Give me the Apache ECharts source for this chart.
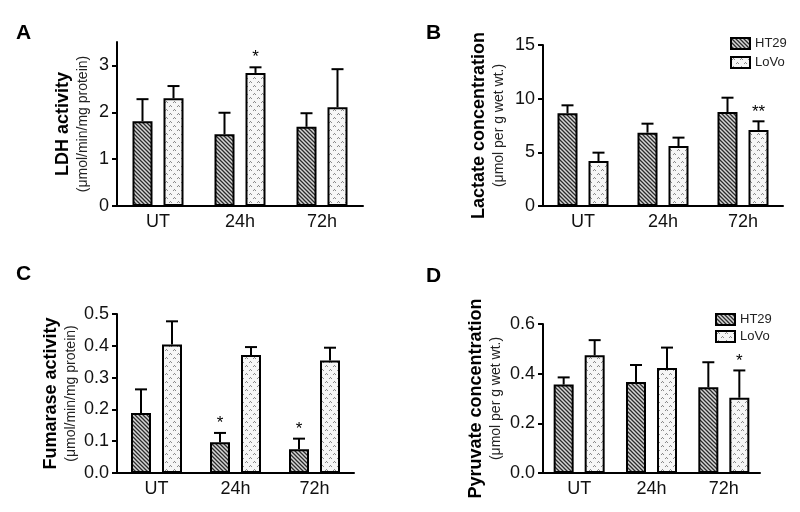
<!DOCTYPE html>
<html>
<head>
<meta charset="utf-8">
<script src="https://cdn.jsdelivr.net/npm/echarts@6/dist/echarts.min.js"></script>
<style>html,body{margin:0;padding:0;background:#fff;}#c{width:800px;height:512px;}</style>
</head>
<body>
<div id="c"></div>
<script>
// ---------- DATA ----------
const categories = ['UT', '24h', '72h'];
const seriesNames = ['HT29', 'LoVo'];

// A: LDH activity
const ldhHT29 = [1.81, 1.53, 1.69];
const ldhHT29Sem = [0.47, 0.46, 0.29];
const ldhLoVo = [2.30, 2.84, 2.11];
const ldhLoVoSem = [0.26, 0.12, 0.81];
const ldhHT29Stars = ['', '', ''];
const ldhLoVoStars = ['', '*', ''];
const ldhTicks = [0, 1, 2, 3];

// B: Lactate concentration
const lacHT29 = [8.64, 6.83, 8.76];
const lacHT29Sem = [0.74, 0.84, 1.33];
const lacLoVo = [4.19, 5.59, 7.08];
const lacLoVoSem = [0.78, 0.78, 0.81];
const lacHT29Stars = ['', '', ''];
const lacLoVoStars = ['', '', '**'];
const lacTicks = [0, 5, 10, 15];

// C: Fumarase activity
const fumHT29 = [0.189, 0.097, 0.075];
const fumHT29Sem = [0.074, 0.029, 0.033];
const fumLoVo = [0.404, 0.371, 0.354];
const fumLoVoSem = [0.073, 0.025, 0.040];
const fumHT29Stars = ['', '*', '*'];
const fumLoVoStars = ['', '', ''];
const fumTicks = [0, 0.1, 0.2, 0.3, 0.4, 0.5];

// D: Pyruvate concentration
const pyrHT29 = [0.356, 0.366, 0.345];
const pyrHT29Sem = [0.029, 0.069, 0.101];
const pyrLoVo = [0.474, 0.423, 0.303];
const pyrLoVoSem = [0.061, 0.082, 0.110];
const pyrHT29Stars = ['', '', ''];
const pyrLoVoStars = ['', '', '*'];
const pyrTicks = [0, 0.2, 0.4, 0.6];

// ---------- STYLE / LAYOUT ----------
const FONT = 'Liberation Sans, Arial, Helvetica, sans-serif';
const BAR_W = 20;
const BAR_GAP = 0.55;
const OFF = BAR_W * (1 + BAR_GAP) / 2;

function hatchPattern() {
  const c = document.createElement('canvas');
  c.width = 4; c.height = 4;
  const g = c.getContext('2d');
  g.fillStyle = '#d6d6d6'; g.fillRect(0, 0, 4, 4);
  g.strokeStyle = '#2b2b2b'; g.lineWidth = 1.3;
  g.beginPath();
  g.moveTo(-1, -1); g.lineTo(5, 5);
  g.moveTo(-1, 3); g.lineTo(1, 5);
  g.moveTo(3, -1); g.lineTo(5, 1);
  g.stroke();
  return c;
}
function dotPattern() {
  const c = document.createElement('canvas');
  c.width = 8; c.height = 8;
  const g = c.getContext('2d');
  g.fillStyle = '#f6f6f6'; g.fillRect(0, 0, 8, 8);
  g.fillStyle = '#8a8a8a';
  [[2,1],[1,2],[3,2],[6,5],[5,6],[7,6]].forEach(p => g.fillRect(p[0], p[1], 1, 1));
  return c;
}
const fills = [
  { image: hatchPattern(), repeat: 'repeat' },
  { image: dotPattern(), repeat: 'repeat' }
];

const panels = [
  { letter: 'A', grid: { left: 117, top: 42, width: 246, height: 164 }, max: 3.5, ticks: ldhTicks, dec: 0,
    title: 'LDH activity', unit: '(μmol/min/mg protein)', gap: 25,
    means: [ldhHT29, ldhLoVo], sems: [ldhHT29Sem, ldhLoVoSem], stars: [ldhHT29Stars, ldhLoVoStars] },
  { letter: 'B', grid: { left: 543, top: 45, width: 240, height: 161 }, max: 15, ticks: lacTicks, dec: 0,
    title: 'Lactate concentration', unit: '(μmol per g wet wt.)', gap: 35,
    means: [lacHT29, lacLoVo], sems: [lacHT29Sem, lacLoVoSem], stars: [lacHT29Stars, lacLoVoStars] },
  { letter: 'C', grid: { left: 117, top: 314, width: 237, height: 159 }, max: 0.5, ticks: fumTicks, dec: 1,
    title: 'Fumarase activity', unit: '(μmol/min/mg protein)', gap: 37,
    means: [fumHT29, fumLoVo], sems: [fumHT29Sem, fumLoVoSem], stars: [fumHT29Stars, fumLoVoStars] },
  { letter: 'D', grid: { left: 543, top: 324, width: 217, height: 149 }, max: 0.6, ticks: pyrTicks, dec: 1,
    title: 'Pyruvate concentration', unit: '(μmol per g wet wt.)', gap: 38,
    means: [pyrHT29, pyrLoVo], sems: [pyrHT29Sem, pyrLoVoSem], stars: [pyrHT29Stars, pyrLoVoStars] }
];
const letterPos = [[11, 18], [421, 18], [11, 259], [421, 261]];

const grids = [], xAxes = [], yAxes = [], series = [], titles = [];
panels.forEach((p, k) => {
  grids.push(p.grid);
  titles.push({ text: p.letter, left: letterPos[k][0], top: letterPos[k][1],
    textStyle: { fontFamily: FONT, fontSize: 21, fontWeight: 'bold', color: '#000' } });
  xAxes.push({
    type: 'category', gridIndex: k, data: categories,
    axisLine: { lineStyle: { color: '#000', width: 2 } },
    axisTick: { alignWithLabel: true, length: 5, lineStyle: { color: '#000', width: 2 } },
    axisLabel: { fontFamily: FONT, fontSize: 18, color: '#111', margin: 7 }
  });
  yAxes.push({
    type: 'value', gridIndex: k, min: 0, max: p.max,
    axisLine: { show: true, lineStyle: { color: '#000', width: 2 } },
    axisTick: { show: true, length: 5, lineStyle: { color: '#000', width: 2 }, customValues: p.ticks },
    axisLabel: { fontFamily: FONT, fontSize: 18, color: '#111', margin: 8, customValues: p.ticks,
      formatter: v => v.toFixed(p.dec) },
    splitLine: { show: false },
    name: '{t|' + p.title + '}\n{s|' + p.unit + '}',
    nameLocation: 'middle', nameRotate: 90, nameGap: p.gap,
    nameTextStyle: { fontFamily: FONT, color: '#000', align: 'center',
      rich: { t: { fontFamily: FONT, fontSize: 18, fontWeight: 'bold', lineHeight: 22, color: '#000' },
              s: { fontFamily: FONT, fontSize: 14, lineHeight: 18, color: '#222' } } }
  });
  for (let s = 0; s < 2; s++) {
    series.push({
      type: 'bar', name: seriesNames[s], xAxisIndex: k, yAxisIndex: k,
      data: p.means[s], barWidth: BAR_W, barGap: (BAR_GAP * 100) + '%',
      itemStyle: { color: fills[s], borderColor: '#000', borderWidth: 2 },
      emphasis: { disabled: true }, animation: false
    });
  }
  for (let s = 0; s < 2; s++) {
    const dir = s === 0 ? -1 : 1;
    const stars = p.stars[s];
    series.push({
      type: 'custom', name: seriesNames[s] + ' SEM', xAxisIndex: k, yAxisIndex: k,
      data: p.means[s].map((m, i) => [i, m, p.sems[s][i]]),
      encode: { x: 0, y: 1 }, clip: false, z: 5, animation: false, silent: true,
      renderItem: (params, api) => {
        const i = api.value(0), m = api.value(1), e = api.value(2);
        const b = api.coord([i, m]);
        const t = api.coord([i, m + e]);
        const cx = b[0] + dir * OFF;
        const children = [
          { type: 'line', shape: { x1: cx, y1: b[1], x2: cx, y2: t[1] }, style: { stroke: '#000', lineWidth: 2 } },
          { type: 'line', shape: { x1: cx - 6, y1: t[1], x2: cx + 6, y2: t[1] }, style: { stroke: '#000', lineWidth: 2 } }
        ];
        const star = stars[params.dataIndex];
        if (star) {
          children.push({ type: 'text', x: cx, y: t[1] - 1,
            style: { text: star, fontFamily: FONT, fontSize: 17, fill: '#000', align: 'center', verticalAlign: 'bottom' } });
        }
        return { type: 'group', children };
      }
    });
  }
});

const legendCommon = {
  orient: 'vertical', data: seriesNames, itemWidth: 19, itemHeight: 11,
  icon: 'rect', selectedMode: false, padding: 0,
  textStyle: { fontFamily: FONT, fontSize: 13, color: '#222' }
};
const legends = [
  Object.assign({}, legendCommon, { left: 730, top: 37, itemGap: 6 }),
  Object.assign({}, legendCommon, { left: 715, top: 313, itemGap: 4 })
];

const chart = echarts.init(document.getElementById('c'), null, { renderer: 'canvas' });
chart.setOption({
  backgroundColor: '#fff',
  animation: false,
  title: titles,
  legend: legends,
  grid: grids,
  xAxis: xAxes,
  yAxis: yAxes,
  series: series
});
</script>
</body>
</html>
